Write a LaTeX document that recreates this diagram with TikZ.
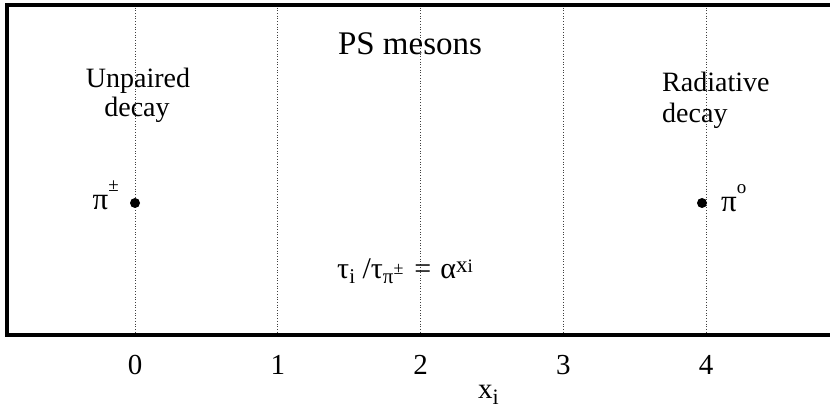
\documentclass[tikz,border=0pt]{standalone}
\usepackage{fontspec}
\setmainfont{Liberation Serif}
\usetikzlibrary{positioning}
\newcommand{\fsz}[1]{\fontsize{#1}{#1}\selectfont}
\newcommand{\hiup}[2]{\raisebox{#1}{\fsz{19}#2}}
\newcommand{\lowr}[1]{\raisebox{-5pt}{\fsz{21}#1}}
\newcommand{\upr}[1]{\raisebox{6pt}{\fsz{23}#1}}

\begin{document}
\begin{tikzpicture}[
  x=1pt, y=-1pt,
  every node/.style={font=\fsz{28}, inner sep=0pt},
  frame/.style={line width=3.5pt},
  grid line/.style={dotted, line width=0.7pt, black!75},
  meson/.style={circle, fill=black, minimum size=10pt, inner sep=0pt},
  ticklabel/.style={font=\fsz{29}, anchor=base}
]
\useasboundingbox (0,0) rectangle (830,411);

% dotted grid and axis numbers
\foreach \i in {0,...,4} {
  \coordinate (top\i) at (135+142.75*\i,5);
  \coordinate (bot\i) at (135+142.75*\i,335);
  \draw[grid line] (top\i) -- (bot\i);
  \node[ticklabel] (tick\i) at (135+142.75*\i,375) {\i};
}

% frame, open on the right
\coordinate (frame ne) at (832,5);
\coordinate (frame nw) at (7,5);
\coordinate (frame sw) at (7,335);
\coordinate (frame se) at (832,335);
\draw[frame] (frame ne) -- (frame nw) -- (frame sw) -- (frame se);

\node[font=\fsz{33}, anchor=base] (title) at (410,55) {PS mesons};

\node[anchor=base] (unpaired) at (138,88) {Unpaired};
\node[anchor=base] (unpaired2) at (137,117) {decay};
\node[anchor=base west] (radiative) at (662,92) {Radiative};
\node[anchor=base west] (radiative2) at (662,123) {decay};

% the two mesons
\node[meson] (pipm dot) at (bot0 |- 0,203) {};
\node[meson] (pi0 dot) at (702,203) {};
\node[anchor=base east, font=\fsz{31}] (pipm) at (119,210) {π\hiup{0.6em}{±}};
\node[anchor=base west, font=\fsz{31}] (pi0) at (721,212) {π\hiup{0.6em}{o}};

\node[anchor=base west, font=\fsz{30}] (ratio) at (337,279)
  {τ\lowr{i} /τ\lowr{π\raisebox{9pt}{\fsz{18}±}}\hspace{11pt}=\hspace{9pt}α\upr{x\fsz{19}i}};

\node[font=\fsz{29}, anchor=base west] (xlabel) at (478,399)
  {x\raisebox{-0.2em}{\fsz{22}i}};
\end{tikzpicture}
\end{document}
